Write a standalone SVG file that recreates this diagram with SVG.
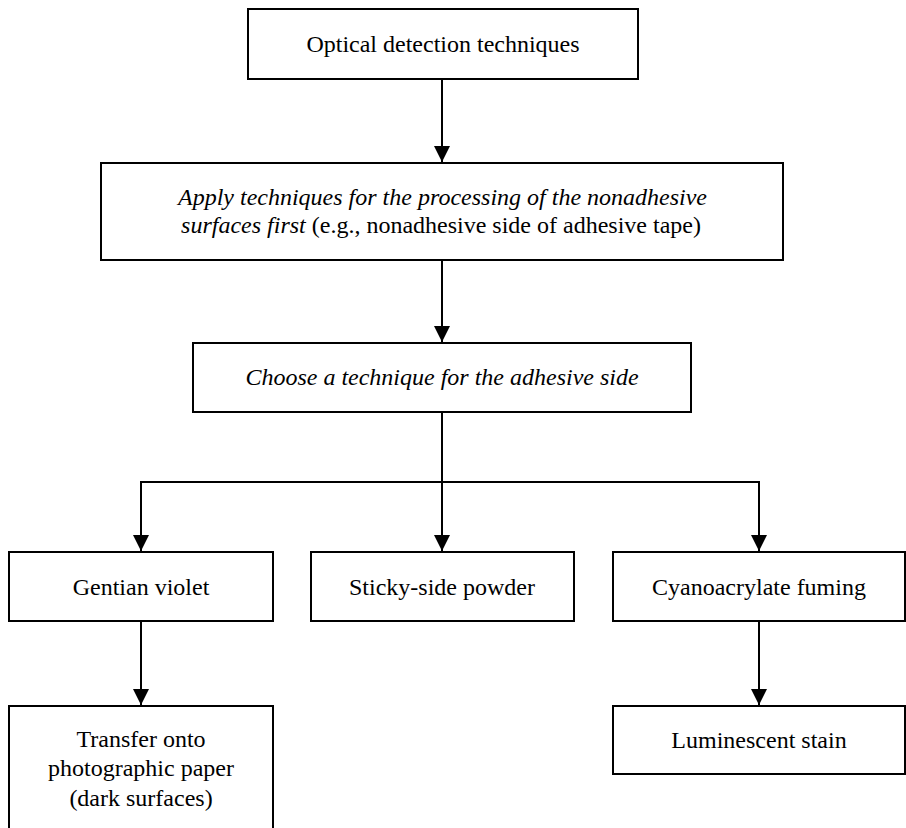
<svg xmlns="http://www.w3.org/2000/svg" width="906" height="828" viewBox="0 0 906 828">
  <style>
    .box { fill: #fff; stroke: #000; stroke-width: 2; }
    .lbl { font-family: "Liberation Serif", "Times New Roman", serif; font-size: 24px; fill: #000; text-anchor: middle; }
    .it { font-style: italic; }
    .conn { fill: none; stroke: #000; stroke-width: 2; }
  </style>
  <defs>
    <marker id="arrow" markerUnits="userSpaceOnUse" markerWidth="17" markerHeight="17" refX="16" refY="8" orient="auto">
      <path d="M0,0 L16,8 L0,16 z" fill="#000"/>
    </marker>
  </defs>
  <rect width="906" height="828" fill="#fff"/>

  <g id="connectors">
    <path class="conn" d="M442,79 V162" marker-end="url(#arrow)"/>
    <path class="conn" d="M442,260 V342" marker-end="url(#arrow)"/>
    <path class="conn" d="M442,412 V482"/>
    <path class="conn" d="M141,482 H759"/>
    <path class="conn" d="M141,481 V551" marker-end="url(#arrow)"/>
    <path class="conn" d="M442,482 V551" marker-end="url(#arrow)"/>
    <path class="conn" d="M759,481 V551" marker-end="url(#arrow)"/>
    <path class="conn" d="M141,621 V705" marker-end="url(#arrow)"/>
    <path class="conn" d="M759,621 V705" marker-end="url(#arrow)"/>
  </g>

  <g id="optical">
    <rect class="box" x="248" y="9" width="390" height="70"/>
    <text class="lbl" x="443" y="52">Optical detection techniques</text>
  </g>

  <g id="apply">
    <rect class="box" x="101" y="163" width="682" height="97"/>
    <text class="lbl it" x="442.5" y="205">Apply techniques for the processing of the nonadhesive</text>
    <text class="lbl" x="441" y="233"><tspan class="it">surfaces first</tspan> (e.g., nonadhesive side of adhesive tape)</text>
  </g>

  <g id="choose">
    <rect class="box" x="193" y="343" width="498" height="69"/>
    <text class="lbl it" x="442" y="385">Choose a technique for the adhesive side</text>
  </g>

  <g id="gentian">
    <rect class="box" x="9" y="552" width="264" height="69"/>
    <text class="lbl" x="141" y="595">Gentian violet</text>
  </g>

  <g id="sticky">
    <rect class="box" x="311" y="552" width="263" height="69"/>
    <text class="lbl" x="442" y="595">Sticky-side powder</text>
  </g>

  <g id="cyano">
    <rect class="box" x="613" y="552" width="292" height="69"/>
    <text class="lbl" x="759" y="595">Cyanoacrylate fuming</text>
  </g>

  <g id="transfer">
    <rect class="box" x="9" y="706" width="264" height="130"/>
    <text class="lbl" x="141" y="747">Transfer onto</text>
    <text class="lbl" x="141" y="776">photographic paper</text>
    <text class="lbl" x="141" y="806">(dark surfaces)</text>
  </g>

  <g id="luminescent">
    <rect class="box" x="613" y="706" width="292" height="68"/>
    <text class="lbl" x="759" y="748">Luminescent stain</text>
  </g>
</svg>
